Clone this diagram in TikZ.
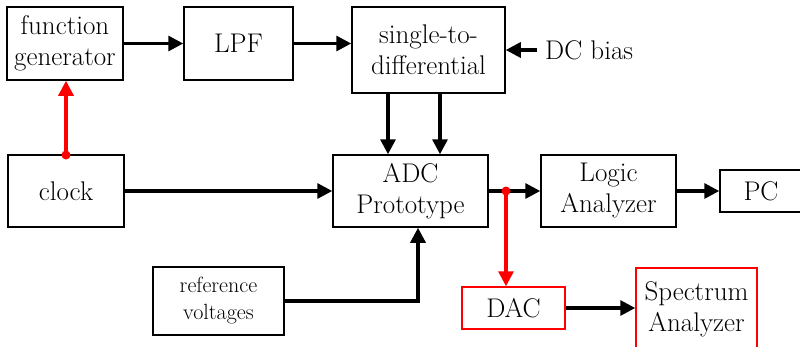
\documentclass[tikz,border=0pt]{standalone}
\usetikzlibrary{arrows.meta,calc}
\begin{document}
\begin{tikzpicture}[x=1pt,y=-1pt,
  blk/.style={draw=black,line width=1.5pt,inner sep=0pt,align=center,font=\rmfamily\fontsize{27}{31}\selectfont},
  redblk/.style={blk,draw=red},
  conn/.style={line width=3.2pt,-{Triangle[length=15pt,width=15pt]}},
  redconn/.style={conn,draw=red,fill=red},
  dot/.style={circle,fill=red,inner sep=0pt,minimum size=9pt}]
\useasboundingbox (0,0) rectangle (800,346);
\node[blk,minimum width=116pt,minimum height=73pt] (fg) at (65,43.5) {function\\generator};
\node[blk,minimum width=109pt,minimum height=73pt] (lpf) at (238.5,43.5) {LPF};
\node[blk,minimum width=153pt,minimum height=86pt] (sd) at (428.5,50) {single-to-\\differential};
\node[font=\rmfamily\fontsize{27}{31}\selectfont,anchor=west,inner sep=0pt] (dc) at (545,50) {DC bias};
\node[blk,minimum width=116pt,minimum height=72pt] (clk) at (66,191) {clock};
\node[blk,minimum width=155pt,minimum height=72pt] (adc) at (410.5,191) {ADC\\Prototype};
\node[blk,minimum width=135pt,minimum height=72pt] (la) at (608.5,191) {Logic\\Analyzer};
\node[blk,minimum width=82pt,minimum height=42pt] (pc) at (761,191) {PC};
\node[blk,minimum width=131pt,minimum height=68pt,font=\rmfamily\fontsize{22}{27}\selectfont] (ref) at (218.5,301) {reference\\voltages};
\node[redblk,minimum width=103pt,minimum height=42pt] (dac) at (513.5,308) {DAC};
\node[redblk,minimum width=121pt,minimum height=82pt] (sa) at (696.5,309) {Spectrum\\Analyzer};

\draw[conn] (fg.east) -- (lpf.west);
\draw[conn] (lpf.east) -- (lpf.east -| sd.west);
\draw[conn] ($(dc.west)+(-8,0)$) -- (sd.east);
\draw[conn] ($(sd.south)+(-40.5,0)$) -- ($(adc.north)+(-22.5,0)$);
\draw[conn] ($(sd.south)+(11.5,0)$) -- ($(adc.north)+(29.5,0)$);
\draw[conn] (clk.east) -- (adc.west);
\draw[conn] (adc.east) -- (la.west);
\draw[conn] (la.east) -- (pc.west);
\draw[conn] (ref.east) -| ($(adc.south)+(7.5,0)$);
\draw[conn] (dac.east) -- (dac.east -| sa.west);
\coordinate (ck) at (66,155);
\draw[redconn] (ck) -- (fg.south -| ck);
\node[dot] (d1) at (ck) {};
\coordinate (br) at (506,191);
\draw[redconn] (br) -- (dac.north -| br);
\node[dot] (d2) at (br) {};
\end{tikzpicture}
\end{document}
